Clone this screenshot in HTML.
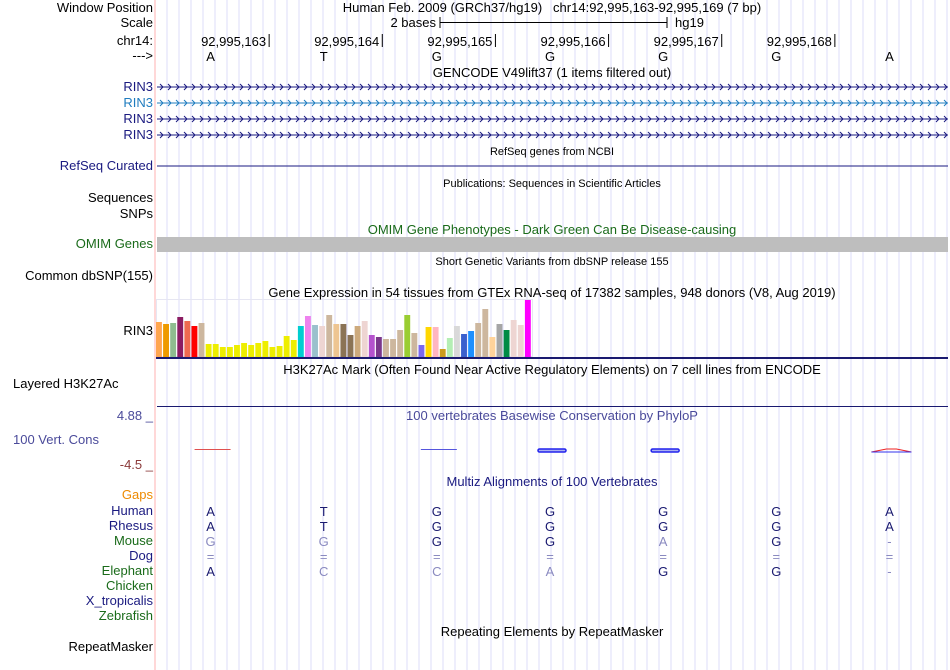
<!DOCTYPE html>
<html><head><meta charset="utf-8">
<style>
body{margin:0;width:950px;height:670px;background:#fff;overflow:hidden;position:relative;font-family:"Liberation Sans",sans-serif;}
.t{position:absolute;white-space:nowrap;font-size:13px;line-height:14px;color:#000;}
.l{position:absolute;right:797px;text-align:right;white-space:nowrap;font-size:13px;line-height:14px;}
.c{position:absolute;white-space:nowrap;transform:translateX(-50%);font-size:13px;line-height:14px;}
.s{font-size:11px;}
</style></head><body>
<svg id="bg" width="950" height="670" style="position:absolute;left:0;top:0"></svg>

<div class="l" style="top:1px">Window Position</div>
<div class="c" style="left:552px;top:1px">Human Feb. 2009 (GRCh37/hg19)&nbsp;&nbsp; chr14:92,995,163-92,995,169 (7 bp)</div>
<div class="l" style="top:16px">Scale</div>
<div class="t" style="right:514px;top:16px">2 bases</div>
<div class="t" style="left:675px;top:16px">hg19</div>
<div class="l" style="top:34px">chr14:</div>
<div class="l" style="top:49px">---&gt;</div>
<div class="c" style="left:552px;top:66px">GENCODE V49lift37 (1 items filtered out)</div>
<div class="l" style="top:80px;color:#1a1a80">RIN3</div>
<div class="l" style="top:96px;color:#1f7cbf">RIN3</div>
<div class="l" style="top:112px;color:#1a1a80">RIN3</div>
<div class="l" style="top:128px;color:#1a1a80">RIN3</div>
<div class="c s" style="left:552px;top:145px">RefSeq genes from NCBI</div>
<div class="l" style="top:159px;color:#1a1a80">RefSeq Curated</div>
<div class="c s" style="left:552px;top:177px">Publications: Sequences in Scientific Articles</div>
<div class="l" style="top:191px">Sequences</div>
<div class="l" style="top:207px">SNPs</div>
<div class="c" style="left:552px;top:223px;color:#1a6b1a">OMIM Gene Phenotypes - Dark Green Can Be Disease-causing</div>
<div class="l" style="top:237px;color:#1a6b1a">OMIM Genes</div>
<div class="c s" style="left:552px;top:255px">Short Genetic Variants from dbSNP release 155</div>
<div class="l" style="top:269px">Common dbSNP(155)</div>
<div class="c" style="left:552px;top:286px">Gene Expression in 54 tissues from GTEx RNA-seq of 17382 samples, 948 donors (V8, Aug 2019)</div>
<div class="l" style="top:324px">RIN3</div>
<div class="c" style="left:552px;top:363px">H3K27Ac Mark (Often Found Near Active Regulatory Elements) on 7 cell lines from ENCODE</div>
<div class="t" style="left:13px;top:377px">Layered H3K27Ac</div>
<div class="l" style="top:409px;color:#4a4a9a">4.88 _</div>
<div class="c" style="left:552px;top:409px;color:#4a4a9a">100 vertebrates Basewise Conservation by PhyloP</div>
<div class="t" style="left:13px;top:433px;color:#4a4a9a">100 Vert. Cons</div>
<div class="l" style="top:458px;color:#8b3a3a">-4.5 _</div>
<div class="c" style="left:552px;top:475px;color:#1a1a80">Multiz Alignments of 100 Vertebrates</div>
<div class="l" style="top:488px;color:#ee8a00">Gaps</div>
<div class="l" style="top:504px;color:#1a1a80">Human</div>
<div class="l" style="top:519px;color:#1a1a80">Rhesus</div>
<div class="l" style="top:534px;color:#1a6b1a">Mouse</div>
<div class="l" style="top:549px;color:#1a1a80">Dog</div>
<div class="l" style="top:564px;color:#1a6b1a">Elephant</div>
<div class="l" style="top:579px;color:#1a6b1a">Chicken</div>
<div class="l" style="top:594px;color:#1a1a80">X_tropicalis</div>
<div class="l" style="top:609px;color:#1a6b1a">Zebrafish</div>
<div class="c" style="left:552px;top:625px">Repeating Elements by RepeatMasker</div>
<div class="l" style="top:640px">RepeatMasker</div>

<script>
const positions = ["92,995,163","92,995,164","92,995,165","92,995,166","92,995,167","92,995,168"];
const bases = ["A","T","G","G","G","G","A"];
const rhesus = ["A","T","G","G","G","G","A"];
const mouse = ["G","G","G","G","A","G","-"];
const dog = ["=","=","=","=","=","=","="];
const elephant = ["A","C","C","A","G","G","-"];
const gtexValues = [35,33,34,40,36,31,34,13,13,10,10,12,14,12,14,16,10,11,21,17,31,41,32,31,42,33,33,22,31,36,22,20,18,18,27,42,24,12,30,30,8,19,31,23,26,34,48,20,33,27,37,32,57];
const gtexColors = ["#ffa54f","#ee9a00","#8fbc8f","#8b1c62","#ee6a50","#ff0000","#cdb79e","#eeee00","#eeee00","#eeee00","#eeee00","#eeee00","#eeee00","#eeee00","#eeee00","#eeee00","#eeee00","#eeee00","#eeee00","#eeee00","#00ced1","#ee82ee","#9ac0cd","#eed5d2","#cdb79e","#eec591","#8b7355","#8b7355","#cdaa7d","#eed5d2","#b452cd","#7a378b","#cdb79e","#cdb79e","#cdb79e","#9acd32","#cdb79e","#7b68ee","#ffd700","#ffb6c1","#cd9b1d","#b4eeb4","#d9d9d9","#3a5fcd","#1e90ff","#cdb79e","#cdb79e","#ffd39b","#a6a6a6","#008b45","#eed5d2","#eed5d2","#ff00ff"];
const phyloStart = [0,2,3,4,6];
const phyloColor = ["#e05050","#5555dd","#2222ee","#2222ee","#ee2222"];

const NS="http://www.w3.org/2000/svg";
const svg=document.getElementById('bg');
const X0=156, X1=948, NB=7, BW=(X1-X0)/NB;
const baseX=i=>X0+BW*(i+0.5);
const edgeX=i=>X0+BW*(i+1);
function el(tag,a,p){const e=document.createElementNS(NS,tag);for(const k in a)e.setAttribute(k,a[k]);(p||svg).appendChild(e);return e;}
for(let x=167;x<950;x+=12){const g=el('line',{x1:x,y1:0,x2:x,y2:670,stroke:'#dcdcfa','stroke-width':1});

}
const rb=el('line',{x1:155,y1:0,x2:155,y2:670,stroke:'#ffb0b0','stroke-width':1});


el('path',{d:'M440 17V28M440 22.5H667M667 17V28',stroke:'#000',fill:'none'});
positions.forEach((p,i)=>{const x=edgeX(i);
el('line',{x1:x,y1:34,x2:x,y2:47,stroke:'#000','stroke-width':1});
const t=el('text',{x:x-3,y:46,'text-anchor':'end','font-size':13,'font-family':'Liberation Sans, sans-serif'});t.textContent=p;

});
bases.forEach((b,i)=>{const t=el('text',{x:baseX(i)-2,y:61,'text-anchor':'middle','font-size':13,'font-family':'Liberation Sans, sans-serif'});t.textContent=b;

});
[[87,'#1a1a80'],[103,'#1f7cbf'],[119,'#1a1a80'],[135,'#1a1a80']].forEach(([y,c])=>{
const g=el('g',{stroke:c,fill:'none','stroke-width':1});


el('line',{x1:157,y1:y,x2:948,y2:y},g);
let d='';for(let x=160;x<948;x+=8){d+=`M${x} ${y-3}L${x+3} ${y}L${x} ${y+3}`;}
el('path',{d},g);});
const rs=el('line',{x1:157,y1:166,x2:948,y2:166,stroke:'#1a1a80'});


const om=el('rect',{x:157,y:237,width:791,height:15,fill:'#bebebe'});


const gB=357, gScale=1, bStep=(532-156)/gtexValues.length;
el('rect',{x:156.5,y:299.5,width:376,height:57,fill:'none',stroke:'#e6e6f2'});
gtexValues.forEach((v,i)=>{const h=v*gScale;
const r=el('rect',{x:156+i*bStep,y:gB-h,width:bStep-1.2,height:h,fill:gtexColors[i]});

});
el('rect',{x:156,y:357,width:792,height:2,fill:'#1a1a70'});
el('line',{x1:157,y1:406.5,x2:948,y2:406.5,stroke:'#1a1a70'});
phyloStart.forEach((b,i)=>{const x=baseX(b);
const g=el('g',{});


if(i===0||i===1){el('line',{x1:x-18,y1:449.5,x2:x+18,y2:449.5,stroke:phyloColor[i],'stroke-width':1},g);}
else if(i===4){el('path',{d:`M${x-20} 452L${x-5} 449L${x+5} 449L${x+20} 452Z`,fill:'none',stroke:'#ee2222'},g);el('line',{x1:x-20,y1:452,x2:x+20,y2:452,stroke:'#3333ee'},g);}
else{el('rect',{x:x-14,y:449,width:28,height:3,rx:1.5,fill:'#aab0f0',stroke:phyloColor[i],'stroke-width':1.5},g);}});
const DK='#1a1a70', LT='#8a8ac0';
function row(arr,y,ref){arr.forEach((b,i)=>{const t=el('text',{x:baseX(i)-2,y:y,'text-anchor':'middle','font-size':13,'font-family':'Liberation Sans, sans-serif',fill:(ref||b===bases[i])&&b!=='='&&b!=='-'?DK:LT});t.textContent=b;

});}
row(bases,516,true);row(rhesus,531);row(mouse,546);row(dog,561);row(elephant,576);
</script>
</body></html>
